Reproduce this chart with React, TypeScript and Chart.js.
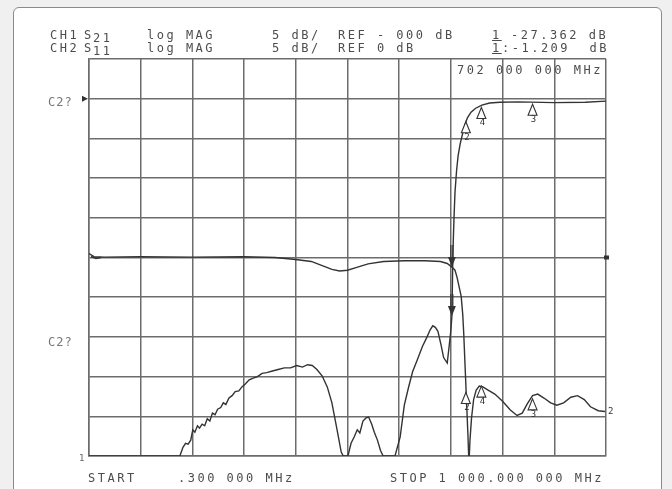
import React, { useEffect, useRef } from "react";
import { Chart, registerables } from "chart.js";

Chart.register(...registerables);

// Sweep (MHz)
const FREQ_START = 0.3;
const FREQ_STOP = 1000;

// CH1 S21 (dB, 5 dB/div, ref 0 dB)
const s21Freq = [
  0.3, 176, 182, 187, 192, 197, 201, 205, 210, 214, 219, 224, 229, 234, 239, 244,
  249, 255, 260, 265, 271, 277, 283, 290, 296, 303, 310, 318, 326, 335, 344, 355,
  366, 378, 390, 402, 413, 423, 432, 441, 451, 461, 470, 480, 488, 492, 501, 507,
  513, 519, 524, 530, 536, 541, 547, 552, 558, 564, 569, 592, 602, 610, 618, 626,
  635, 645, 654, 660, 665, 670, 675, 681, 686, 693, 697, 700, 702, 704, 706, 708,
  711, 714, 718, 722, 727, 732, 739, 748, 760, 775, 795, 830, 900, 960, 1000,
];
const s21Db = [
  -45, -45, -43.9, -43.4, -43.5, -43.0, -41.7, -42.0, -41.2, -41.5, -41.0, -41.2, -40.3, -40.6, -39.6, -39.8,
  -39.1, -38.9, -38.3, -38.5, -37.7, -37.4, -36.9, -36.8, -36.3, -35.9, -35.4, -35.2, -35.0, -34.6, -34.5, -34.3,
  -34.1, -33.9, -33.9, -33.6, -33.8, -33.5, -33.6, -34.1, -34.9, -36.3, -38.3, -41.7, -44.5, -45, -45, -43.4,
  -42.6, -41.7, -42.1, -40.6, -40.2, -40.1, -41.0, -42.0, -43.0, -44.3, -45, -45, -42.6, -38.6, -36.4, -34.4,
  -32.9, -31.2, -30.0, -29.1, -28.6, -28.8, -29.3, -31.0, -32.6, -33.3, -31.0, -29.2, -27.4, -19.4, -15.2, -11.8,
  -9.1, -7.2, -5.7, -4.6, -3.3, -2.4, -1.7, -1.2, -0.8, -0.55, -0.45, -0.4, -0.5, -0.45, -0.3,
];

// CH2 S11 (dB, 5 dB/div, ref 0 dB)
const s11Freq = [
  0.3, 10, 30, 100, 200, 300, 360, 400, 430, 450, 470, 485, 500, 515, 540, 570,
  610, 650, 680, 693, 702, 708, 712, 716, 720, 723, 725, 727, 729, 731, 733, 735,
  737, 740, 744, 749, 755, 762, 772, 785, 800, 815, 828, 838, 848, 858, 868, 880,
  893, 905, 918, 932, 945, 958, 970, 985, 998,
];
const s11Db = [
  0.5, 0.1, 0.05, 0.1, 0.05, 0.1, 0, -0.25, -0.5, -1.0, -1.5, -1.7, -1.6, -1.3, -0.8, -0.5,
  -0.4, -0.4, -0.5, -0.75, -1.21, -1.6, -2.5, -3.7, -4.9, -7.2, -9.7, -12.9, -16.0, -19.2, -22.3, -26,
  -23.0, -20.2, -17.9, -16.7, -16.2, -16.3, -16.7, -17.2, -18.1, -19.2, -19.9, -19.6, -18.4, -17.4, -17.2, -17.7,
  -18.3, -18.6, -18.3, -17.6, -17.4, -17.9, -18.8, -19.3, -19.4,
];

// Markers
const markerFreq = [729, 759, 858];
const markerLabel = ["2", "4", "3"];
const markerS21 = [-2.9, -1.1, -0.7];
const markerS11 = [-17.0, -16.2, -17.8];
const activeMarkerFreq = 702;
const activeS21 = -27.362;
const activeS11 = -1.209;

const GRID = "#6c6c6c";
const TRACE = "#333333";

const markerPlugin = {
  id: "vnaMarkers",
  afterDatasetsDraw(chart: any) {
    const { ctx, scales, chartArea } = chart;
    const x = scales.x, y = scales.y, y2 = scales.y2;
    ctx.save();
    ctx.strokeStyle = TRACE;
    ctx.fillStyle = TRACE;
    ctx.lineWidth = 1.1;
    ctx.font = '9px "DejaVu Sans Mono"';
    ctx.textAlign = "center";
    ctx.textBaseline = "top";
    const tri = (px: number, py: number, lab: string) => {
      ctx.beginPath();
      ctx.moveTo(px, py);
      ctx.lineTo(px - 4.5, py + 11);
      ctx.lineTo(px + 4.5, py + 11);
      ctx.closePath();
      ctx.fillStyle = "#fff";
      ctx.fill();
      ctx.stroke();
      ctx.fillStyle = TRACE;
      ctx.fillText(lab, px + 1, py + 11);
    };
    markerFreq.forEach((f, i) => {
      const px = x.getPixelForValue(f);
      tri(px, y.getPixelForValue(markerS21[i]), markerLabel[i]);
      tri(px, y2.getPixelForValue(markerS11[i]), markerLabel[i]);
    });
    const arrow = (px: number, py: number) => {
      ctx.beginPath();
      ctx.moveTo(px - 1, py - 22);
      ctx.lineTo(px - 1, py - 8);
      ctx.moveTo(px + 1, py - 22);
      ctx.lineTo(px + 1, py - 8);
      ctx.stroke();
      ctx.beginPath();
      ctx.moveTo(px, py);
      ctx.lineTo(px - 4, py - 10);
      ctx.lineTo(px + 4, py - 10);
      ctx.closePath();
      ctx.fillStyle = TRACE;
      ctx.fill();
    };
    const ax = x.getPixelForValue(activeMarkerFreq);
    arrow(ax, y.getPixelForValue(activeS21));
    arrow(ax, y2.getPixelForValue(activeS11));
    // reference indicators
    const r1 = y.getPixelForValue(0);
    ctx.beginPath();
    ctx.moveTo(chartArea.left - 1, r1);
    ctx.lineTo(chartArea.left - 7, r1 - 3);
    ctx.lineTo(chartArea.left - 7, r1 + 3);
    ctx.closePath();
    ctx.fill();
    const r2 = y2.getPixelForValue(0);
    ctx.lineWidth = 1.4;
    ctx.beginPath();
    ctx.moveTo(chartArea.left + 2, r2 - 1);
    ctx.lineTo(chartArea.left + 7, r2 + 1);
    ctx.lineTo(chartArea.left + 12, r2);
    ctx.stroke();
    ctx.fillRect(chartArea.right - 2, r2 - 2, 5, 4);
    // channel tag at trace end
    ctx.font = '9px "DejaVu Sans Mono"';
    ctx.textAlign = "left";
    ctx.textBaseline = "middle";
    ctx.fillText("2", chartArea.right + 2, y2.getPixelForValue(s11Db[s11Db.length - 1]));
    ctx.restore();
  },
};

export default function App() {
  const ref = useRef<HTMLCanvasElement>(null);
  useEffect(() => {
    if (!ref.current) return;
    const gridX = Array.from({ length: 11 }, (_, i) => FREQ_START + (i * (FREQ_STOP - FREQ_START)) / 10);
    const chart = new Chart(ref.current, {
      type: "scatter",
      data: {
        datasets: [
          {
            label: "S21",
            data: s21Freq.map((f, i) => ({ x: f, y: s21Db[i] })),
            yAxisID: "y",
            showLine: true,
            borderColor: TRACE,
            borderWidth: 1.4,
            pointRadius: 0,
            tension: 0,
          },
          {
            label: "S11",
            data: s11Freq.map((f, i) => ({ x: f, y: s11Db[i] })),
            yAxisID: "y2",
            showLine: true,
            borderColor: TRACE,
            borderWidth: 1.4,
            pointRadius: 0,
            tension: 0,
          },
        ],
      },
      options: {
        animation: false,
        responsive: false,
        devicePixelRatio: 1,
        layout: { padding: { left: 89, top: 59, right: 66, bottom: 33 } },
        plugins: { legend: { display: false }, tooltip: { enabled: false } },
        scales: {
          x: {
            type: "linear",
            min: FREQ_START,
            max: FREQ_STOP,
            afterBuildTicks: (axis: any) => {
              axis.ticks = gridX.map((v) => ({ value: v }));
            },
            ticks: { display: false },
            grid: { color: GRID, lineWidth: 1.5, drawTicks: false },
            border: { color: GRID, width: 1.5 },
          },
          y: {
            min: -45,
            max: 5,
            ticks: { display: false, stepSize: 5 },
            grid: { color: GRID, lineWidth: 1.5, drawTicks: false },
            border: { color: GRID, width: 1.5 },
          },
          y2: { display: false, min: -25, max: 25 },
        },
      },
      plugins: [markerPlugin],
    } as any);
    return () => chart.destroy();
  }, []);

  const base: React.CSSProperties = {
    position: "absolute",
    font: '12px "DejaVu Sans Mono", monospace',
    letterSpacing: "2.5px",
    color: "#4d4d4d",
    lineHeight: "12px",
    whiteSpace: "pre",
  };
  const T = (s: string, left: number, top: number, extra: React.CSSProperties = {}) => (
    <span style={{ ...base, left, top, ...extra }}>{s}</span>
  );

  return (
    <div style={{ position: "fixed", left: 0, top: 0, width: 672, height: 489, overflow: "hidden", background: "#f0f0f0" }}>
      <div
        style={{
          position: "absolute",
          left: 13,
          top: 7,
          width: 647,
          height: 520,
          border: "1px solid #8a8a8a",
          borderRadius: 6,
          background: "#fff",
        }}
      />
      <canvas ref={ref} width={672} height={489} style={{ position: "absolute", left: 0, top: 0 }} />
      {T("CH1", 50, 29)}
      {T("S", 84, 29)}
      {T("21", 93, 32)}
      {T("log MAG", 147, 29)}
      {T("5 dB/", 272, 29)}
      {T("REF - 000 dB", 338, 29)}
      {T("1", 492, 29, { textDecoration: "underline" })}
      {T("-27.362 dB", 511, 29)}
      {T("CH2", 50, 42)}
      {T("S", 84, 42)}
      {T("11", 93, 45)}
      {T("log MAG", 147, 42)}
      {T("5 dB/", 272, 42)}
      {T("REF 0 dB", 338, 42)}
      {T("1", 492, 42, { textDecoration: "underline" })}
      {T(":-1.209  dB", 502, 42)}
      {T("702 000 000 MHz", 457, 64)}
      {T("C2?", 48, 96, { color: "#777", letterSpacing: "1px" })}
      {T("C2?", 48, 336, { color: "#777", letterSpacing: "1px" })}
      {T("1", 79, 452, { fontSize: 9, color: "#666" })}
      {T("START", 88, 472)}
      {T(".300 000 MHz", 178, 472)}
      {T("STOP 1 000.000 000 MHz", 390, 472)}
    </div>
  );
}
